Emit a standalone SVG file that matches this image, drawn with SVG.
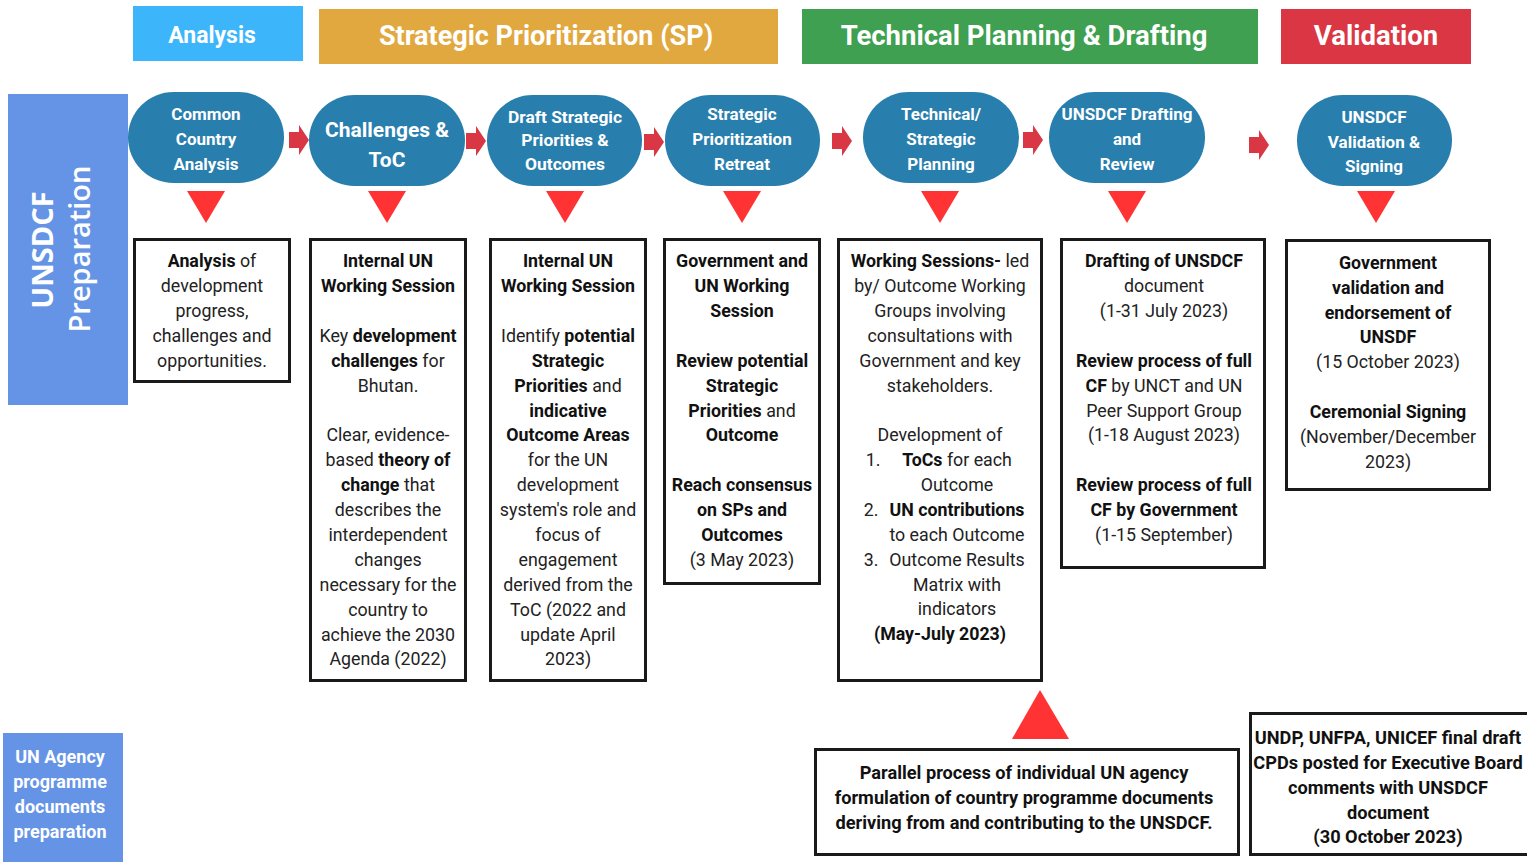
<svg xmlns="http://www.w3.org/2000/svg" width="1527" height="862" viewBox="0 0 1527 862">
<defs>
<style>
.hdr{font-family:Roboto,"Liberation Sans",sans-serif;font-weight:700;fill:#fff;text-anchor:middle}
.side{fill:#6594E6}
.pill{fill:#287EAD}
.pt{font-family:Roboto,"Liberation Sans",sans-serif;font-weight:700;fill:#fff;font-size:17px;text-anchor:middle}
.ag{font-size:18px}
.big{font-size:21px}
.sm{font-size:17.4px}
.box{fill:#fff;stroke:#1a1a1a;stroke-width:3}
.bt{font-family:Roboto,"Liberation Sans",sans-serif;font-size:17.8px;fill:#222;text-anchor:middle}
.b{font-weight:700;fill:#111}
.bb{font-size:18.2px}
.tri{fill:#FF3333}
.arr{fill:#D93744}
.rot{font-family:"Open Sans",Roboto,sans-serif;font-size:29px;fill:#fff;text-anchor:middle}
</style>
<path id="rarrow" d="M0,-8 H10 V-15 L20,0 L10,15 V8 H0 Z"/>
<path id="dtri" d="M-19,0 H19 L0,32 Z"/>
</defs>
<rect width="1527" height="862" fill="#fff"/>

<g id="phase-analysis">
<rect x="133" y="6" width="170" height="55" fill="#3CB5FB"/>
<text class="hdr" x="212" y="43" font-size="23">Analysis</text>
</g>
<g id="phase-sp">
<rect x="319" y="9" width="459" height="55" fill="#E2A840"/>
<text class="hdr" x="546" y="45" font-size="27">Strategic Prioritization (SP)</text>
</g>
<g id="phase-tpd">
<rect x="802" y="9" width="456" height="55" fill="#3EA050"/>
<text class="hdr" x="1024" y="45" font-size="27.5">Technical Planning &amp; Drafting</text>
</g>
<g id="phase-validation">
<rect x="1281" y="9" width="190" height="55" fill="#DA3644"/>
<text class="hdr" x="1376" y="45" font-size="27.5">Validation</text>
</g>

<g id="lane-unsdcf">
<rect class="side" x="8" y="94" width="120" height="311"/>
<text class="rot" font-weight="700" transform="translate(53,250) rotate(-90)">UNSDCF</text>
<text class="rot" font-weight="600" transform="translate(90,249) rotate(-90)">Preparation</text>
</g>
<g id="lane-agency">
<rect class="side" x="3" y="733" width="120" height="129"/>
<text class="pt ag" x="60" y="763">UN Agency</text>
<text class="pt ag" x="60" y="788">programme</text>
<text class="pt ag" x="60" y="813">documents</text>
<text class="pt ag" x="60" y="838">preparation</text>
</g>

<g id="step-cca">
<rect class="pill" x="128" y="92" width="156" height="91" rx="45.5"/>
<text class="pt" x="206" y="120">Common</text>
<text class="pt" x="206" y="145">Country</text>
<text class="pt" x="206" y="170">Analysis</text>
</g>
<g id="step-toc">
<rect class="pill" x="309" y="95" width="156" height="91" rx="45.5"/>
<text class="pt big" x="387" y="137">Challenges &amp;</text>
<text class="pt big" x="387" y="167">ToC</text>
</g>
<g id="step-draft">
<rect class="pill" x="487" y="95" width="155" height="91" rx="45.5"/>
<text class="pt sm" x="565" y="123">Draft Strategic</text>
<text class="pt sm" x="565" y="146">Priorities &amp;</text>
<text class="pt sm" x="565" y="170">Outcomes</text>
</g>
<g id="step-retreat">
<rect class="pill" x="665" y="95" width="155" height="91" rx="45.5"/>
<text class="pt" x="742" y="120">Strategic</text>
<text class="pt" x="742" y="145">Prioritization</text>
<text class="pt" x="742" y="170">Retreat</text>
</g>
<g id="step-planning">
<rect class="pill" x="863" y="92" width="156" height="91" rx="45.5"/>
<text class="pt" x="941" y="120">Technical/</text>
<text class="pt" x="941" y="145">Strategic</text>
<text class="pt" x="941" y="170">Planning</text>
</g>
<g id="step-drafting">
<rect class="pill" x="1049" y="92" width="156" height="91" rx="45.5"/>
<text class="pt" x="1127" y="120">UNSDCF Drafting</text>
<text class="pt" x="1127" y="145">and</text>
<text class="pt" x="1127" y="170">Review</text>
</g>
<g id="step-validation">
<rect class="pill" x="1297" y="95" width="155" height="91" rx="45.5"/>
<text class="pt" x="1374" y="123">UNSDCF</text>
<text class="pt" x="1374" y="148">Validation &amp;</text>
<text class="pt" x="1374" y="172">Signing</text>
</g>

<g id="detail-cca">
<rect class="box" x="134.5" y="239.5" width="155" height="142"/>
<text class="bt" x="212" y="267"><tspan class="b">Analysis</tspan> of</text>
<text class="bt" x="212" y="292">development</text>
<text class="bt" x="212" y="317">progress,</text>
<text class="bt" x="212" y="342">challenges and</text>
<text class="bt" x="212" y="367">opportunities.</text>
</g>
<g id="detail-toc">
<rect class="box" x="310.5" y="239.5" width="155" height="441"/>
<text class="bt b" x="388" y="267">Internal UN</text>
<text class="bt b" x="388" y="292">Working Session</text>
<text class="bt" x="388" y="342">Key <tspan class="b">development</tspan></text>
<text class="bt" x="388" y="367"><tspan class="b">challenges</tspan> for</text>
<text class="bt" x="388" y="392">Bhutan.</text>
<text class="bt" x="388" y="441">Clear, evidence-</text>
<text class="bt" x="388" y="466">based <tspan class="b">theory of</tspan></text>
<text class="bt" x="388" y="491"><tspan class="b">change</tspan> that</text>
<text class="bt" x="388" y="516">describes the</text>
<text class="bt" x="388" y="541">interdependent</text>
<text class="bt" x="388" y="566">changes</text>
<text class="bt" x="388" y="591">necessary for the</text>
<text class="bt" x="388" y="616">country to</text>
<text class="bt" x="388" y="641">achieve the 2030</text>
<text class="bt" x="388" y="665">Agenda (2022)</text>
</g>
<g id="detail-draft">
<rect class="box" x="490.5" y="239.5" width="155" height="441"/>
<text class="bt b" x="568" y="267">Internal UN</text>
<text class="bt b" x="568" y="292">Working Session</text>
<text class="bt" x="568" y="342">Identify <tspan class="b">potential</tspan></text>
<text class="bt b" x="568" y="367">Strategic</text>
<text class="bt" x="568" y="392"><tspan class="b">Priorities</tspan> and</text>
<text class="bt b" x="568" y="417">indicative</text>
<text class="bt b" x="568" y="441">Outcome Areas</text>
<text class="bt" x="568" y="466">for the UN</text>
<text class="bt" x="568" y="491">development</text>
<text class="bt" x="568" y="516">system's role and</text>
<text class="bt" x="568" y="541">focus of</text>
<text class="bt" x="568" y="566">engagement</text>
<text class="bt" x="568" y="591">derived from the</text>
<text class="bt" x="568" y="616">ToC (2022 and</text>
<text class="bt" x="568" y="641">update April</text>
<text class="bt" x="568" y="665">2023)</text>
</g>
<g id="detail-retreat">
<rect class="box" x="664.5" y="239.5" width="155" height="344"/>
<text class="bt b" x="742" y="267">Government and</text>
<text class="bt b" x="742" y="292">UN Working</text>
<text class="bt b" x="742" y="317">Session</text>
<text class="bt b" x="742" y="367">Review potential</text>
<text class="bt b" x="742" y="392">Strategic</text>
<text class="bt" x="742" y="417"><tspan class="b">Priorities</tspan> and</text>
<text class="bt b" x="742" y="441">Outcome</text>
<text class="bt b" x="742" y="491">Reach consensus</text>
<text class="bt b" x="742" y="516">on SPs and</text>
<text class="bt b" x="742" y="541">Outcomes</text>
<text class="bt" x="742" y="566">(3 May 2023)</text>
</g>
<g id="detail-planning">
<rect class="box" x="838.5" y="239.5" width="203" height="441"/>
<text class="bt" x="940" y="267"><tspan class="b">Working Sessions-</tspan> led</text>
<text class="bt" x="940" y="292">by/ Outcome Working</text>
<text class="bt" x="940" y="317">Groups involving</text>
<text class="bt" x="940" y="342">consultations with</text>
<text class="bt" x="940" y="367">Government and key</text>
<text class="bt" x="940" y="392">stakeholders.</text>
<text class="bt" x="940" y="441">Development of</text>
<text class="bt" x="873" y="466">1.</text>
<text class="bt" x="957" y="466"><tspan class="b">ToCs</tspan> for each</text>
<text class="bt" x="957" y="491">Outcome</text>
<text class="bt" x="871" y="516">2.</text>
<text class="bt b" x="957" y="516">UN contributions</text>
<text class="bt" x="957" y="541">to each Outcome</text>
<text class="bt" x="871" y="566">3.</text>
<text class="bt" x="957" y="566">Outcome Results</text>
<text class="bt" x="957" y="591">Matrix with</text>
<text class="bt" x="957" y="615">indicators</text>
<text class="bt b" x="940" y="640">(May-July 2023)</text>
</g>
<g id="detail-drafting">
<rect class="box" x="1061.5" y="239.5" width="203" height="328"/>
<text class="bt b" x="1164" y="267">Drafting of UNSDCF</text>
<text class="bt" x="1164" y="292">document</text>
<text class="bt" x="1164" y="317">(1-31 July 2023)</text>
<text class="bt b" x="1164" y="367">Review process of full</text>
<text class="bt" x="1164" y="392"><tspan class="b">CF</tspan> by UNCT and UN</text>
<text class="bt" x="1164" y="417">Peer Support Group</text>
<text class="bt" x="1164" y="441">(1-18 August 2023)</text>
<text class="bt b" x="1164" y="491">Review process of full</text>
<text class="bt b" x="1164" y="516">CF by Government</text>
<text class="bt" x="1164" y="541">(1-15 September)</text>
</g>
<g id="detail-validation">
<rect class="box" x="1286.5" y="240.5" width="203" height="249"/>
<text class="bt b" x="1388" y="269">Government</text>
<text class="bt b" x="1388" y="294">validation and</text>
<text class="bt b" x="1388" y="319">endorsement of</text>
<text class="bt b" x="1388" y="343">UNSDF</text>
<text class="bt" x="1388" y="368">(15 October 2023)</text>
<text class="bt b" x="1388" y="418">Ceremonial Signing</text>
<text class="bt" x="1388" y="443">(November/December</text>
<text class="bt" x="1388" y="468">2023)</text>
</g>

<g id="parallel-process">
<rect class="box" x="815.5" y="749.5" width="423" height="105"/>
<text class="bt b bb" x="1024" y="779">Parallel process of individual UN agency</text>
<text class="bt b bb" x="1024" y="804">formulation of country programme documents</text>
<text class="bt b bb" x="1024" y="829">deriving from and contributing to the UNSDCF.</text>
</g>
<g id="cpd-posting">
<rect class="box" x="1250.5" y="713.5" width="280" height="141"/>
<text class="bt b bb" x="1388" y="744">UNDP, UNFPA, UNICEF final draft</text>
<text class="bt b bb" x="1388" y="769">CPDs posted for Executive Board</text>
<text class="bt b bb" x="1388" y="794">comments with UNSDCF</text>
<text class="bt b bb" x="1388" y="819">document</text>
<text class="bt b bb" x="1388" y="843">(30 October 2023)</text>
</g>

<g id="connectors">
<use href="#rarrow" class="arr" x="289" y="140"/>
<use href="#rarrow" class="arr" x="466" y="141"/>
<use href="#rarrow" class="arr" x="644" y="142"/>
<use href="#rarrow" class="arr" x="832" y="141"/>
<use href="#rarrow" class="arr" x="1023" y="140"/>
<use href="#rarrow" class="arr" x="1249" y="145"/>
<use href="#dtri" class="tri" x="206" y="191"/>
<use href="#dtri" class="tri" x="387" y="191"/>
<use href="#dtri" class="tri" x="565" y="191"/>
<use href="#dtri" class="tri" x="742" y="191"/>
<use href="#dtri" class="tri" x="940" y="191"/>
<use href="#dtri" class="tri" x="1127" y="191"/>
<use href="#dtri" class="tri" x="1376" y="191"/>
<path class="tri" d="M1040,690 L1069,739 H1012 Z"/>
</g>
</svg>
